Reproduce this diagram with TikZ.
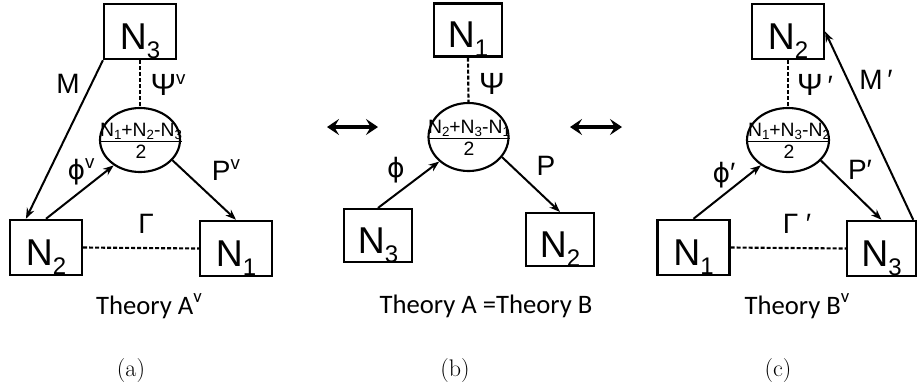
\documentclass[tikz,border=0pt]{standalone}
\usepackage{fontspec}
\newfontfamily\arial{Liberation Sans}
\newfontfamily\calib{Carlito}
\newfontfamily\djv{DejaVu Sans}
\usetikzlibrary{shapes.geometric,arrows.meta,calc}
\newcommand{\BN}[1]{N\raisebox{-6.5pt}{\fontsize{18}{18}\selectfont #1}}
\newcommand{\SN}[1]{N\raisebox{-2.5pt}{\fontsize{10}{10}\selectfont #1}}
\newcommand{\sv}{\raisebox{8pt}{\fontsize{14}{14}\selectfont v}}
\newcommand{\capv}{\raisebox{9pt}{\fontsize{14}{14}\selectfont v}}
\newcommand{\vphi}{{\djv\fontsize{20}{20}\selectfont ϕ}}
\newcommand{\bPsi}{{\fontsize{23}{23}\selectfont Ψ}}
\begin{document}
\begin{tikzpicture}[x=0.75pt,y=-0.75pt,
  box/.style={draw,line width=1.6pt,inner sep=0pt,minimum width=54pt,minimum height=41.5pt,
    font=\arial\fontsize{28}{28}\selectfont,text height=26.8pt,text depth=0pt},
  sbox/.style={box,minimum width=51pt,minimum height=39.75pt},
  ell/.style={draw,ellipse,line width=1.6pt,inner sep=0pt,minimum width=60pt,minimum height=48pt},
  etext/.style={font=\arial\fontsize{14.5}{16}\selectfont,align=center,inner sep=0pt},
  lbl/.style={font=\arial\fontsize{21}{21}\selectfont,inner sep=0pt},
  captxt/.style={font=\calib\fontsize{20}{20}\selectfont,inner sep=0pt},
  sublbl/.style={font=\fontsize{18}{18}\selectfont,inner sep=0pt},
  arr/.style={line width=1.5pt,-{Stealth[length=8pt,width=6pt]}},
  dsh/.style={line width=1.6pt,dash pattern=on 3pt off 1.5pt},
  dbl/.style={line width=3pt,{Stealth[length=9pt,width=12pt,inset=3.5pt]}-{Stealth[length=9pt,width=12pt,inset=3.5pt]}}
]
\useasboundingbox (0,0) rectangle (917,387);

% ---------- (a) ----------
\node[box] (N3a) at (140,31.5) {\BN{3}};
\node[box] (N2a) at (46,247.5) {\BN{2}};
\node[box] (N1a) at (236,248.5) {\BN{1}};
\node[ell] (ea) at (140,140) {};
\node[etext] (eat) at (141,141) {\underline{\SN{1}+\SN{2}-\SN{3}}\\[1pt]2};
\draw[dsh] (N3a.south) -- (ea.north);
\draw[dsh] (N2a.east) -- (N1a.west);
\draw[arr] (N3a.south west) -- ($(N2a.north west)+(17,0)$);
\draw[arr] (N2a.north) -- (ea.-136);
\draw[arr] (ea.-32) -- (N1a.north);
\node[lbl] (Ma) at (68,84) {M};
\node[lbl] (Psa) at (168,85) {\bPsi\sv};
\node[lbl] (pha) at (81,172) {\vphi\sv};
\node[lbl] (Pa) at (226,170) {P\sv};
\node[lbl] (Ga) at (146,224) {Γ};
\node[captxt] (capa) at (149,306) {Theory A\capv};
\node[sublbl] (suba) at (131,371) {(a)};

% ---------- (b) ----------
\node[sbox] (N1b) at (468,30) {\BN{1}};
\node[sbox] (N3b) at (378,235.5) {\BN{3}};
\node[sbox] (N2b) at (560,239.5) {\BN{2}};
\node[ell,minimum height=51pt] (eb) at (468.5,137) {};
\node[etext] (ebt) at (469,138) {\underline{\SN{2}+\SN{3}-\SN{1}}\\[1pt]2};
\draw[dsh] (N1b.south) -- (eb.north);
\draw[arr] (N3b.north) -- (eb.-140);
\draw[arr] (eb.-31) -- (N2b.north);
\node[lbl] (Psb) at (492,84) {\bPsi};
\node[lbl] (phb) at (396,170) {\vphi};
\node[lbl] (Pb) at (546,166) {P};
\node[captxt] (capb) at (486,306) {Theory A =Theory B};
\node[sublbl] (subb) at (455,371) {(b)};
\coordinate (dl1) at (327,127);
\coordinate (dl2) at (378,127);
\coordinate (dr1) at (570,127);
\coordinate (dr2) at (622,127);
\draw[dbl] (dl1) -- (dl2);
\draw[dbl] (dr1) -- (dr2);

% ---------- (c) ----------
\node[box] (N2c) at (788,31.5) {\BN{2}};
\node[box] (N1c) at (693.5,247.5) {\BN{1}};
\node[box,minimum width=52pt] (N3c) at (881.5,248.5) {\BN{3}};
\node[ell,minimum width=61.5pt] (ec) at (788,140) {};
\node[etext] (ect) at (789,141) {\underline{\SN{1}+\SN{3}-\SN{2}}\\[1pt]2};
\draw[dsh] (N2c.south) -- (ec.north);
\draw[dsh] (N1c.east) -- (N3c.west);
\draw[arr] (N1c.north) -- (ec.-137);
\draw[arr] (ec.-32) -- (N3c.north);
\draw[arr] ($(N3c.north east)+(-4,0)$) -- (N2c.east);
\node[lbl] (Psc) at (815,85) {\bPsi\,′};
\node[lbl] (Mc) at (876,80) {M\,′};
\node[lbl] (phc) at (724,175) {\vphi′};
\node[lbl] (Pc) at (860,170) {P′};
\node[lbl] (Gc) at (797,224) {Γ ′};
\node[captxt] (capc) at (797,306) {Theory B\capv};
\node[sublbl] (subc) at (778,371) {(c)};
\end{tikzpicture}
\end{document}
